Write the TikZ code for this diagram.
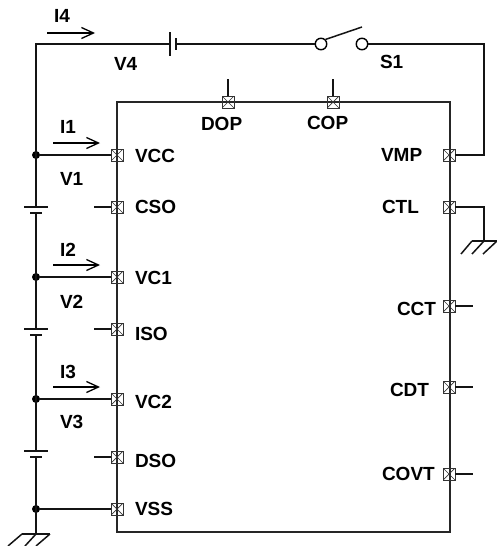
\documentclass[tikz,border=0pt]{standalone}
\usepackage{fontspec}
\setmainfont{Liberation Sans}
\usetikzlibrary{arrows.meta}
\tikzset{
  wire/.style={line width=1.5pt,color=black!92},
  chipbox/.style={line width=1.5pt,color=black!85},
  pinbox/.style={draw=black!80,line width=0.8pt,minimum size=12pt,inner sep=0pt,outer sep=0pt,
    path picture={\draw[black!80,line width=0.7pt] (path picture bounding box.north west)--(path picture bounding box.south east)
      (path picture bounding box.north east)--(path picture bounding box.south west);}},
  dotnode/.style={circle,fill=black,inner sep=0pt,minimum size=8pt},
  swnode/.style={circle,draw=black,line width=1.4pt,fill=white,inner sep=0pt,minimum size=11.5pt},
  lab/.style={font=\fontsize{19}{19}\selectfont\bfseries,anchor=base west,inner sep=0pt,outer sep=0pt},
  cur/.style={line width=1.3pt,-{Straight Barb[length=12pt,width=11pt,line width=1.3pt]}},
}
\begin{document}
\begin{tikzpicture}[x=1pt,y=-1pt]
\useasboundingbox[fill=white] (0,0) rectangle (497,546);
% chip
\draw[chipbox] (117,102) rectangle (450,532);
% pins
\foreach \n/\x/\y in {VCCp/117/155,CSOp/117/207,VCAp/117/277,ISOp/117/329,VCBp/117/399,DSOp/117/457,VSSp/117/509,
  DOPp/228/102,COPp/333/102,VMPp/449/155,CTLp/449/207,CCTp/449/306,CDTp/449/387,COVTp/449/474}
  \node[pinbox] (\n) at (\x,\y) {};
% coordinates
\coordinate (corner) at (36,44);
\coordinate (b4a) at (170,44);
\coordinate (b4b) at (176,44);
\node[swnode] (swa) at (321,44) {};
\node[swnode] (swb) at (362,44) {};
\coordinate (armEnd) at (362,27);
\coordinate (tr) at (484,44);
\coordinate (vmpc) at (484,155);
\node[dotnode] (j1) at (36,155) {};
\node[dotnode] (j2) at (36,277) {};
\node[dotnode] (j3) at (36,399) {};
\node[dotnode] (j4) at (36,509) {};
\coordinate (b1a) at (36,207);
\coordinate (b1b) at (36,213);
\coordinate (b2a) at (36,329);
\coordinate (b2b) at (36,335);
\coordinate (b3a) at (36,451);
\coordinate (b3b) at (36,457);
\coordinate (g1) at (36,534);
\coordinate (g2c) at (484,207);
\coordinate (g2) at (484,241);
% wiring
\draw[wire] (b4a) -- (corner) -- (b1a);
\draw[wire] (b1b) -- (b2a);
\draw[wire] (b2b) -- (b3a);
\draw[wire] (b3b) -- (g1);
\draw[wire] (b4b) -- (swa);
\draw[wire] (swb) -- (tr) -- (vmpc) -- (VMPp.east);
\draw[wire] (j1) -- (VCCp.west);
\draw[wire] (j2) -- (VCAp.west);
\draw[wire] (j3) -- (VCBp.west);
\draw[wire] (j4) -- (VSSp.west);
\draw[wire] (CTLp.east) -- (g2c) -- (g2);
% switch arm
\draw[wire] (swa.north east) -- (armEnd);
% battery plates
\draw[wire] (170,32) -- (170,56);
\draw[wire] (176,38) -- (176,50);
\foreach \y in {207,329,451} \draw[wire] (24,\y) -- (48,\y);
\foreach \y in {213,335,457} \draw[wire] (30,\y) -- (42,\y);
% stubs
\draw[wire] (DOPp.north) -- (228,79);
\draw[wire] (COPp.north) -- (333,79);
\draw[wire] (CSOp.west) -- (94,207);
\draw[wire] (ISOp.west) -- (94,329);
\draw[wire] (DSOp.west) -- (94,457);
\draw[wire] (CCTp.east) -- (473,306);
\draw[wire] (CDTp.east) -- (473,387);
\draw[wire] (COVTp.east) -- (473,474);
% grounds
\draw[wire] (22,534) -- (50,534);
\draw[wire] (22,534) -- (8,546) (36,534) -- (25,546) (50,534) -- (36,546);
\draw[wire] (472,241) -- (497,241);
\draw[wire] (472,241) -- (461,254) (484,241) -- (472,254) (497,241) -- (483,254);
% currents
\draw[cur] (47,33) -- (95,33);
\draw[cur] (53,143) -- (100,143);
\draw[cur] (53,265) -- (100,265);
\draw[cur] (53,387) -- (100,387);
% labels
\node[lab] (tI4) at (54,23) {I4};
\node[lab] (tV4) at (114,70) {V4};
\node[lab] (tS1) at (380,68) {S1};
\node[lab] (tI1) at (60,133) {I1};
\node[lab] (tV1) at (60,185) {V1};
\node[lab] (tI2) at (60,256) {I2};
\node[lab] (tV2) at (60,308) {V2};
\node[lab] (tI3) at (60,378) {I3};
\node[lab] (tV3) at (60,428) {V3};
\node[lab] (tVCC) at (135,162) {VCC};
\node[lab] (tCSO) at (135,213) {CSO};
\node[lab] (tVC1) at (135,284) {VC1};
\node[lab] (tISO) at (135,340) {ISO};
\node[lab] (tVC2) at (135,408) {VC2};
\node[lab] (tDSO) at (135,467) {DSO};
\node[lab] (tVSS) at (135,515) {VSS};
\node[lab] (tDOP) at (201,130) {DOP};
\node[lab] (tCOP) at (307,129) {COP};
\node[lab] (tVMP) at (381,161) {VMP};
\node[lab] (tCTL) at (382,213) {CTL};
\node[lab] (tCCT) at (397,315) {CCT};
\node[lab] (tCDT) at (390,396) {CDT};
\node[lab] (tCOVT) at (382,480) {COVT};
\end{tikzpicture}
\end{document}
